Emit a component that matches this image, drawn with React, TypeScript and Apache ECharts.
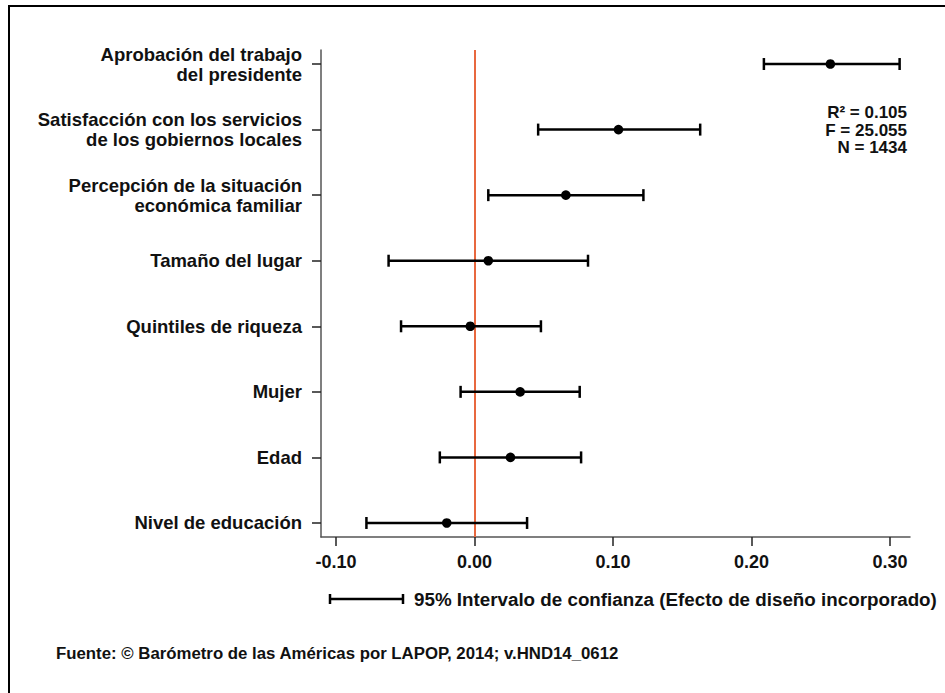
import React, { useEffect, useRef } from "react";
import * as echarts from "echarts";

const categories = [
  "Nivel de educación",
  "Edad",
  "Mujer",
  "Quintiles de riqueza",
  "Tamaño del lugar",
  "Percepción de la situación\neconómica familiar",
  "Satisfacción con los servicios\nde los gobiernos locales",
  "Aprobación del trabajo\ndel presidente",
];
const coefficients = [-0.02, 0.026, 0.033, -0.003, 0.01, 0.066, 0.104, 0.257];
const lowerBounds = [-0.078, -0.025, -0.01, -0.053, -0.062, 0.01, 0.046, 0.209];
const upperBounds = [0.038, 0.077, 0.076, 0.048, 0.082, 0.122, 0.163, 0.307];
const xTicks = [-0.1, 0, 0.1, 0.2, 0.3];
const statsLines = ["R² = 0.105", "F = 25.055", "N = 1434"];
const legendText = "95% Intervalo de confianza (Efecto de diseño incorporado)";
const sourceText = "Fuente: © Barómetro de las Américas por LAPOP, 2014; v.HND14_0612";

const FONT = "'Liberation Sans', Arial, Helvetica, sans-serif";

export default function App() {
  const ref = useRef<HTMLDivElement>(null);

  useEffect(() => {
    if (!ref.current) return;
    const chart = echarts.init(ref.current, undefined, { renderer: "svg" });
    const rows = categories.map((_, i) => [lowerBounds[i], upperBounds[i], coefficients[i], i]);
    const catIdx = categories.map((_, i) => i);

    chart.setOption({
      animation: false,
      backgroundColor: "#ffffff",
      grid: { left: 321, top: 50, width: 589, height: 487, containLabel: false },
      xAxis: {
        type: "value",
        min: -0.1108,
        max: 0.3145,
        splitLine: { show: false },
        axisLine: { show: true, onZero: false, lineStyle: { color: "#555555", width: 1.5 } },
        axisTick: {
          show: true,
          customValues: xTicks,
          length: 9,
          lineStyle: { color: "#222222", width: 1.5 },
        },
        axisLabel: {
          customValues: xTicks,
          formatter: (v: number) => v.toFixed(2),
          margin: 16,
          fontSize: 18,
          fontWeight: "bold",
          fontFamily: FONT,
          color: "#111111",
        },
      },
      yAxis: {
        type: "value",
        min: -0.214,
        max: 7.214,
        splitLine: { show: false },
        axisLine: { show: true, onZero: false, lineStyle: { color: "#555555", width: 1.5 } },
        axisTick: {
          show: true,
          customValues: catIdx,
          length: 9,
          lineStyle: { color: "#222222", width: 1.5 },
        },
        axisLabel: {
          customValues: catIdx,
          formatter: (v: number) => categories[Math.round(v)] ?? "",
          margin: 19,
          align: "right",
          fontSize: 18.5,
          lineHeight: 20,
          fontWeight: "bold",
          fontFamily: FONT,
          color: "#111111",
        },
      },
      series: [
        {
          type: "scatter",
          data: [],
          z: 1,
          markLine: {
            silent: true,
            symbol: "none",
            label: { show: false },
            lineStyle: { color: "#E8683F", width: 2, type: "solid" },
            data: [{ xAxis: 0 }],
          },
        },
        {
          type: "custom",
          z: 5,
          data: rows,
          encode: { x: [0, 1, 2], y: 3 },
          renderItem: (params: any, api: any) => {
            const yi = api.value(3);
            const pL = api.coord([api.value(0), yi]);
            const pH = api.coord([api.value(1), yi]);
            const pC = api.coord([api.value(2), yi]);
            const cap = 6;
            const st = { stroke: "#000000", lineWidth: 2.5 };
            return {
              type: "group",
              children: [
                { type: "line", shape: { x1: pL[0], y1: pL[1], x2: pH[0], y2: pH[1] }, style: st },
                { type: "line", shape: { x1: pL[0], y1: pL[1] - cap, x2: pL[0], y2: pL[1] + cap }, style: st },
                { type: "line", shape: { x1: pH[0], y1: pH[1] - cap, x2: pH[0], y2: pH[1] + cap }, style: st },
                { type: "circle", shape: { cx: pC[0], cy: pC[1], r: 4.8 }, style: { fill: "#000000" } },
              ],
            };
          },
        },
      ],
      graphic: [
        {
          type: "rect",
          shape: { x: 9, y: 6, width: 1000, height: 800 },
          style: { fill: "none", stroke: "#000000", lineWidth: 2 },
          silent: true,
        },
        {
          type: "text",
          x: 907,
          y: 130,
          style: {
            text: statsLines.join("\n"),
            align: "right",
            verticalAlign: "middle",
            fontSize: 17,
            lineHeight: 17.5,
            fontWeight: "bold",
            fontFamily: FONT,
            fill: "#111111",
          },
        },
        { type: "line", shape: { x1: 330, y1: 599, x2: 403, y2: 599 }, style: { stroke: "#000", lineWidth: 2.5 } },
        { type: "line", shape: { x1: 330, y1: 594, x2: 330, y2: 604 }, style: { stroke: "#000", lineWidth: 2.5 } },
        { type: "line", shape: { x1: 403, y1: 594, x2: 403, y2: 604 }, style: { stroke: "#000", lineWidth: 2.5 } },
        {
          type: "text",
          x: 414,
          y: 599,
          style: {
            text: legendText,
            align: "left",
            verticalAlign: "middle",
            fontSize: 18.8,
            fontWeight: "bold",
            fontFamily: FONT,
            fill: "#111111",
          },
        },
        {
          type: "text",
          x: 56,
          y: 653,
          style: {
            text: sourceText,
            align: "left",
            verticalAlign: "middle",
            fontSize: 16.8,
            fontWeight: "bold",
            fontFamily: FONT,
            fill: "#111111",
          },
        },
      ],
    });

    return () => chart.dispose();
  }, []);

  return (
    <div
      ref={ref}
      style={{ position: "absolute", left: 0, top: 0, width: 945, height: 693, background: "#fff" }}
    />
  );
}
